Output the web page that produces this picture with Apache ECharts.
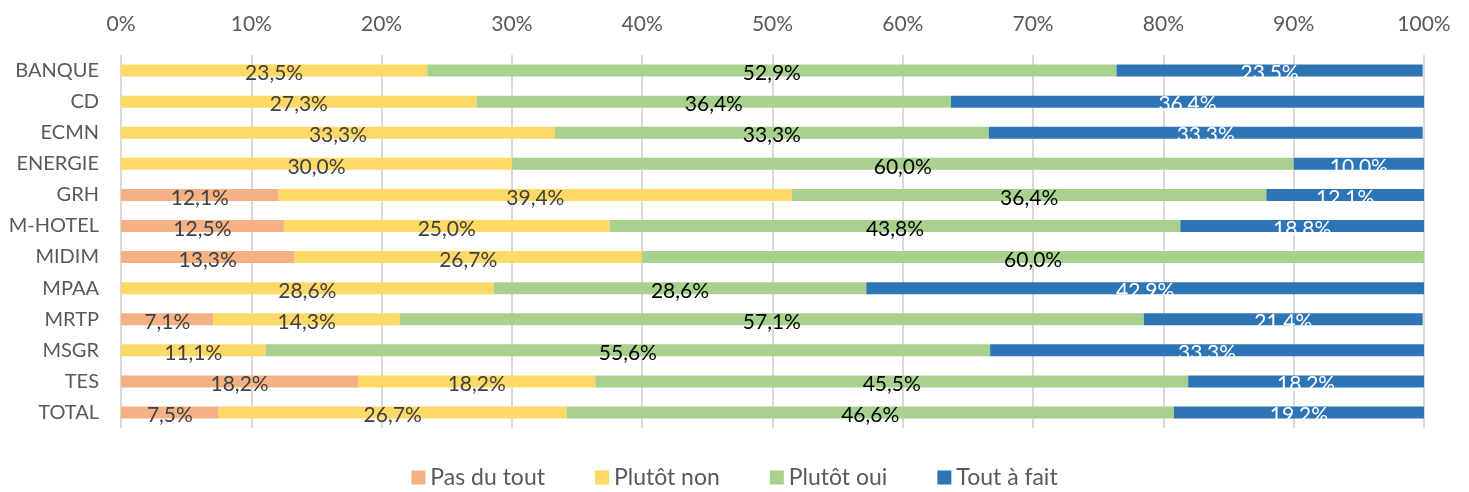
<!DOCTYPE html>
<html>
<head>
<meta charset="utf-8">
<script src="https://cdn.jsdelivr.net/npm/echarts@6/dist/echarts.min.js"></script>
<style>
  html, body { margin: 0; padding: 0; background: #fff; }
  #chart { width: 1469px; height: 492px; }
</style>
</head>
<body>
<div id="chart"></div>
<script>
    // categories (top to bottom)
    var categories = ['BANQUE', 'CD', 'ECMN', 'ENERGIE', 'GRH', 'M-HOTEL', 'MIDIM', 'MPAA', 'MRTP', 'MSGR', 'TES', 'TOTAL'];
    var seriesNames = ['Pas du tout', 'Plutôt non', 'Plutôt oui', 'Tout à fait'];

    // valeurs en %
    var pasDuTout  = [0, 0, 0, 0, 12.1, 12.5, 13.3, 0, 7.1, 0, 18.2, 7.5];
    var plutotNon  = [23.5, 27.3, 33.3, 30.0, 39.4, 25.0, 26.7, 28.6, 14.3, 11.1, 18.2, 26.7];
    var plutotOui  = [52.9, 36.4, 33.3, 60.0, 36.4, 43.8, 60.0, 28.6, 57.1, 55.6, 45.5, 46.6];
    var toutAFait  = [23.5, 36.4, 33.3, 10.0, 12.1, 18.8, 0, 42.9, 21.4, 33.3, 18.2, 19.2];

    var xTicks = [0, 10, 20, 30, 40, 50, 60, 70, 80, 90, 100];

    var colors = ['#F4B183', '#FFD966', '#A9D18E', '#2E75B6'];
    var labelColors = ['#404040', '#404040', '#000000', '#ffffff'];
    var allData = [pasDuTout, plutotNon, plutotOui, toutAFait];

    var fontName = 'Lato';

    var series = [];
    for (var i = 0; i < seriesNames.length; i++) {
        series.push({
            name: seriesNames[i],
            type: 'bar',
            stack: 'total',
            barWidth: 12,
            data: allData[i],
            itemStyle: { color: colors[i] },
            label: {
                show: true,
                position: 'inside',
                offset: [0, 3],
                color: labelColors[i],
                fontFamily: fontName,
                fontSize: 21,
                formatter: function (p) {
                    if (!p.value) { return ''; }
                    return p.value.toFixed(1).replace('.', ',') + '%';
                }
            }
        });
    }

    var myChart = echarts.init(document.getElementById('chart'));
    var option = {
        animation: false,
        color: colors,
        textStyle: { fontFamily: fontName },
        grid: {
            left: 121,
            right: 45,
            top: 55,
            height: 373
        },
        legend: {
            data: seriesNames,
            bottom: -2,
            left: 'center',
            itemWidth: 14,
            itemHeight: 14,
            itemGap: 50,
            icon: 'rect',
            textStyle: { color: '#595959', fontSize: 23, fontFamily: fontName }
        },
        xAxis: {
            type: 'value',
            position: 'top',
            min: 0,
            max: 100,
            interval: 10,
            axisLine: { show: false },
            axisTick: { show: false },
            splitLine: { lineStyle: { color: '#d9d9d9', width: 2 } },
            axisLabel: {
                color: '#595959',
                fontSize: 21,
                margin: 20,
                formatter: function (v) { return xTicks.indexOf(v) >= 0 ? v + '%' : ''; }
            }
        },
        yAxis: {
            type: 'category',
            inverse: true,
            data: categories,
            axisLine: { show: false },
            axisTick: { show: false },
            axisLabel: { color: '#595959', fontSize: 20, margin: 22 }
        },
        series: series
    };
    myChart.setOption(option);
</script>
</body>
</html>
